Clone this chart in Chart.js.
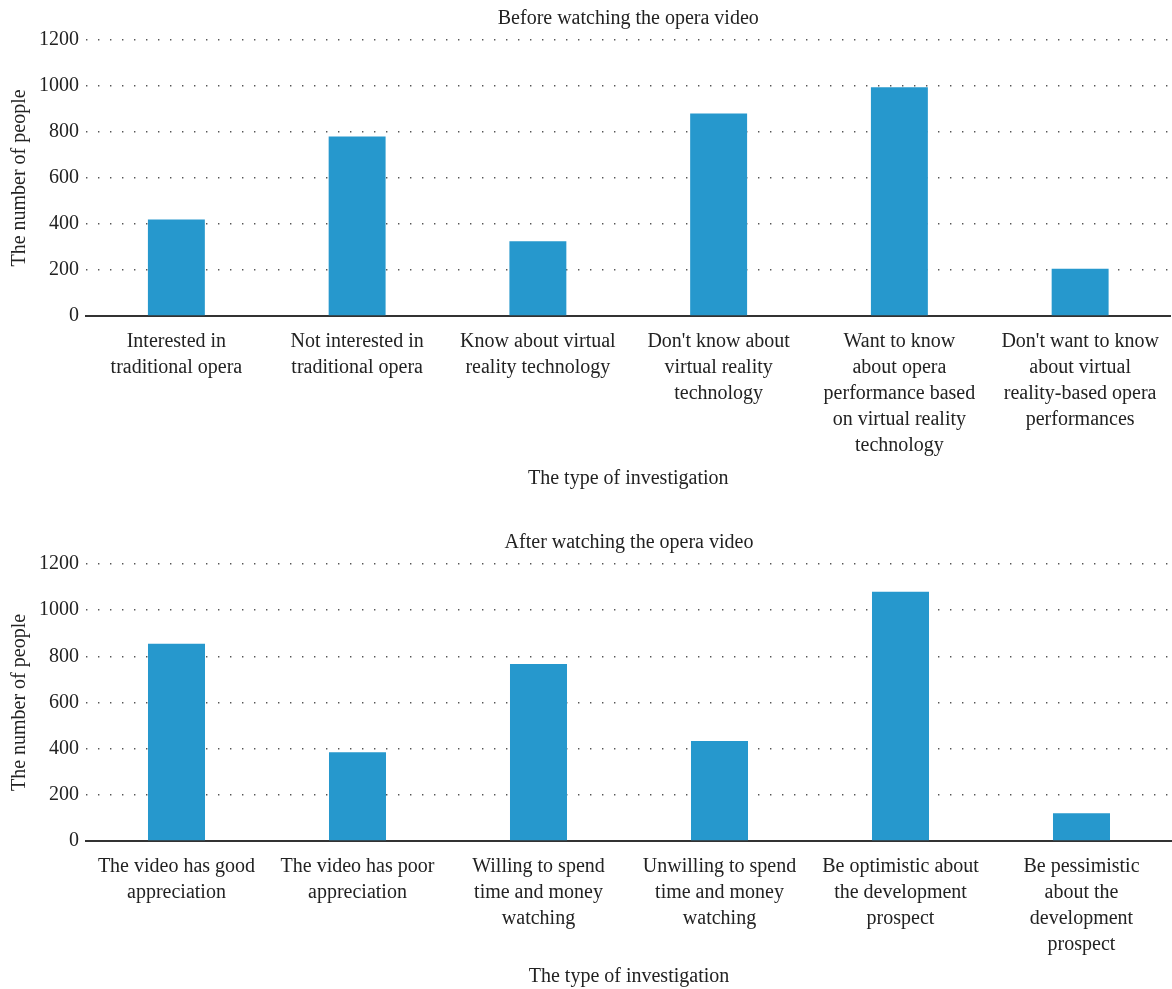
<!DOCTYPE html>
<html>
<head>
<meta charset="utf-8">
<script src="https://cdn.jsdelivr.net/npm/chart.js@4.4.1/dist/chart.umd.min.js"></script>
<style>
  html, body { margin: 0; padding: 0; background: #fff; }
  canvas { display: block; }
</style>
</head>
<body>
<canvas id="before-chart" width="1172" height="524"></canvas>
<canvas id="after-chart" width="1172" height="465"></canvas>
<script>
// ---- survey data ----
const beforeLabels = [
    ['Interested in', 'traditional opera'],
    ['Not interested in', 'traditional opera'],
    ['Know about virtual', 'reality technology'],
    ["Don't know about", 'virtual reality', 'technology'],
    ['Want to know', 'about opera', 'performance based', 'on virtual reality', 'technology'],
    ["Don't want to know", 'about virtual', 'reality-based opera', 'performances']
];
const beforeValues = [420, 780, 325, 880, 995, 205];

const afterLabels = [
    ['The video has good', 'appreciation'],
    ['The video has poor', 'appreciation'],
    ['Willing to spend', 'time and money', 'watching'],
    ['Unwilling to spend', 'time and money', 'watching'],
    ['Be optimistic about', 'the development', 'prospect'],
    ['Be pessimistic', 'about the', 'development', 'prospect']
];
const afterValues = [855, 385, 767, 433, 1080, 120];

const yTicks = [0, 200, 400, 600, 800, 1000, 1200];

const FONT = 'Liberation Serif, Times New Roman, serif';
const TEXT = '#222';
const BAR = '#2698cd';

function renderSurveyChart(id, title, labels, values, xAxisHeight, bottomPad) {
    const ctx = document.getElementById(id);
    return new Chart(ctx, {
        type: 'bar',
        data: {
            labels: labels,
            datasets: [{
                data: values,
                backgroundColor: BAR,
                borderWidth: 0,
                categoryPercentage: 1,
                barPercentage: 0.315
            }]
        },
        options: {
            responsive: false,
            animation: false,
            layout: { padding: { left: 0, right: 0, top: 0, bottom: bottomPad } },
            scales: {
                x: {
                    grid: { display: false, drawTicks: false },
                    border: { display: true, color: '#333', width: 2 },
                    ticks: {
                        color: TEXT,
                        font: { family: FONT, size: 20, lineHeight: 1.3 },
                        padding: 13,
                        maxRotation: 0,
                        autoSkip: false
                    },
                    title: {
                        display: true,
                        text: 'The type of investigation',
                        color: TEXT,
                        font: { family: FONT, size: 20, lineHeight: 1.2 },
                        padding: { top: 0, bottom: 0 }
                    },
                    afterFit: (scale) => { scale.height = xAxisHeight; }
                },
                y: {
                    min: 0,
                    max: 1200,
                    afterBuildTicks: (scale) => { scale.ticks = yTicks.map(v => ({ value: v })); },
                    grid: { color: '#555', lineWidth: 1.4, drawTicks: false },
                    border: { display: false, dash: [1.4, 10.6] },
                    ticks: {
                        color: TEXT,
                        font: { family: FONT, size: 20 },
                        padding: 7,
                        callback: v => String(v)
                    },
                    title: {
                        display: true,
                        text: 'The number of people',
                        color: TEXT,
                        font: { family: FONT, size: 20, lineHeight: 1.2 },
                        padding: { top: 8, bottom: 0 }
                    },
                    afterFit: (scale) => { scale.width = 86; }
                }
            },
            plugins: {
                legend: { display: false },
                tooltip: { enabled: false },
                title: {
                    display: true,
                    text: title,
                    fullSize: false,
                    color: TEXT,
                    font: { family: FONT, size: 20, weight: 'normal', lineHeight: 1.2 },
                    padding: { top: 7, bottom: 9 }
                }
            }
        }
    });
}

renderSurveyChart('before-chart', 'Before watching the opera video', beforeLabels, beforeValues, 175, 33);
renderSurveyChart('after-chart', 'After watching the opera video', afterLabels, afterValues, 148, 0);
</script>
</body>
</html>
